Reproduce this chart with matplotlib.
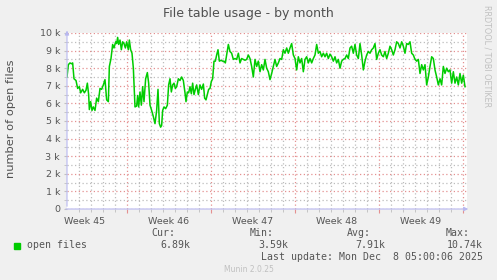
import matplotlib
matplotlib.use("Agg")
import matplotlib.pyplot as plt
from matplotlib.patches import Rectangle
import numpy as np

# open files (k), time in hours from the left edge
hours_a = [0, 2.7, 6, 9.3, 11.3, 14, 18, 21.3, 24.7, 27.3, 31.3, 34.7, 38, 40.7,
           43.3, 44.7, 47.3, 50, 52.7, 56, 59.3, 62.7, 66, 69.3, 72.7, 76, 79.3,
           82.7, 84.7, 88, 91.3, 94, 97.3, 99.3, 101.3, 103.3, 106, 108.7, 111.3,
           114, 116.7, 119.3, 122.7, 124.7, 127.3, 130, 132.7, 136, 139.3, 141.3,
           143.3, 146, 148.7, 151.3, 154, 157.3, 160.7, 163.3, 166, 169.3, 172.7,
           176, 179.3, 182, 184.7, 187.3, 189.3, 191.3, 194, 197.3, 200.7, 203.3,
           206, 208.7, 211.3, 214, 216.7, 219.3, 222.7, 226, 229.3, 232.7, 236,
           238, 240.7, 243.3, 246, 248.7, 251.3, 254, 256.7, 259.3, 262.7, 266,
           269.3, 272.7, 275.3, 278, 280.7, 283.3, 286, 288.7, 291.3, 294, 296.7,
           299.3, 302, 304.7, 308, 311.3, 314, 316.7, 319.3, 322.7, 326, 329.3,
           332.7, 336, 339.3, 342.7, 346, 349.3, 352.7, 356, 359.3, 362.7, 366]
files_a = [7.5, 8.2, 8.3, 8.25, 8.3, 7.4, 7.3, 6.85, 6.95, 6.6, 6.8, 6.6, 6.75, 7.15,
           6.5, 5.65, 6.1, 5.6, 5.8, 5.6, 6.3, 6.1, 6.85, 6.8, 7.05, 7.35, 6.2,
           6.1, 8.1, 8.55, 9.35, 9.15, 9.5, 9.4, 9.75, 9.35, 9.6, 9.05, 9.5,
           9.4, 9.15, 9.5, 9.05, 9.6, 9.05, 8.85, 8.0, 5.8, 5.85, 6.45,
           5.8, 6.65, 5.9, 6.95, 6.1, 7.4, 7.75, 7.15, 5.9, 5.6, 5.25,
           4.85, 5.6, 6.8, 4.85, 4.65, 4.75, 5.6, 5.8, 5.7, 5.9, 7.05,
           7.4, 6.65, 7.05, 7.15, 6.85, 6.95, 7.4, 7.3, 7.5, 7.3, 6.6,
           6.1, 6.65, 6.6, 6.95, 6.55, 7.15, 6.5, 6.8, 7.05, 6.5, 7.05,
           6.8, 7.1, 6.3, 6.2, 6.5, 6.8, 6.85, 7.25, 7.4, 8.4, 8.4,
           8.75, 9.05, 8.4, 8.45, 8.4, 8.4, 8.3, 8.75, 9.35, 8.95, 8.85,
           8.5, 8.55, 8.5, 8.85, 8.3, 8.55, 8.5, 8.45, 8.5, 8.75, 8.55]
files_b = [8.1, 7.5, 8.5, 8.1, 8.4, 7.8, 8.2, 7.9, 8.5, 8.0,
           7.8, 7.35, 7.7, 8.1, 8.5, 8.1, 8.3, 8.55, 8.5, 9.05,
           8.85, 9.15, 8.85, 9.15, 9.4, 8.75, 8.55, 7.9, 8.65, 8.3,
           8.55, 7.8, 8.5, 8.65, 8.3, 8.55, 8.3, 8.55, 8.75, 9.35,
           8.85, 8.95, 8.65, 8.85, 8.65, 8.85, 8.55, 8.8, 8.65, 8.4,
           8.65, 8.3, 8.5, 8.0, 8.4, 8.5, 8.55, 8.75, 8.55, 9.15,
           9.25, 8.85, 9.35, 8.75, 8.55, 9.4, 8.75, 7.9, 8.4, 8.75,
           8.95, 8.85, 9.05, 9.15, 9.4, 8.5, 8.85, 9.05, 8.75, 8.65,
           8.95, 8.55, 8.85, 9.25, 9.05, 8.75, 9.05, 9.5, 9.4, 9.15,
           9.5, 9.25, 8.85, 9.4, 9.35, 9.5, 8.85, 8.75, 8.5, 8.4,
           8.5, 7.7, 8.2, 7.9, 8.2, 7.05, 7.5, 8.1, 8.65, 8.55,
           7.9, 7.5, 7.05, 7.4, 7.05, 8.1, 7.7, 8.0, 7.8, 7.9,
           7.15, 7.8, 7.15, 7.5, 7.05, 7.7, 7.15, 7.6, 6.95]
# second half sampled every 10/3 h starting at 369.3 h
hours_b = 346 + np.arange(7, 7 + len(files_b)) * 10 / 3

week_labels = ["Week 45", "Week 46", "Week 47", "Week 48", "Week 49"]
week_label_pos = [36, 204, 372, 540, 708]
week_lines = [120, 288, 456, 624, 792]
y_ticks = [0, 1000, 2000, 3000, 4000, 5000, 6000, 7000, 8000, 9000, 10000]
y_labels = ["0", "1 k", "2 k", "3 k", "4 k", "5 k", "6 k", "7 k", "8 k", "9 k", "10 k"]

stats_head = ["Cur:", "Min:", "Avg:", "Max:"]
stats_vals = ["6.89k", "3.59k", "7.91k", "10.74k"]

W, H = 497, 280
BG = "#F0F0F0"
GREEN = "#00CC00"
TXT = "#555555"


def fx(x):
    return x / W


def fy(y):
    return 1 - y / H


fig = plt.figure(figsize=(W / 100, H / 100), dpi=100, facecolor=BG)
ax = fig.add_axes([fx(67), fy(209), 400 / W, 176 / H])
ax.set_facecolor("white")

hours = np.concatenate([hours_a, hours_b])
files = np.concatenate([files_a, files_b]) * 1000
ax.plot(hours, files, color=GREEN, lw=1.1, zorder=3)

ax.set_xlim(0, 800)
ax.set_ylim(0, 10000)

# grid
ax.set_xticks(week_lines)
ax.set_xticks(np.arange(24, 800, 24), minor=True)
ax.set_yticks(y_ticks)
ax.set_yticks(np.arange(500, 10000, 1000), minor=True)
ax.set_yticklabels(y_labels)
ax.set_xticklabels([])
ax.grid(which="major", color="#e49090", ls=(0, (1, 2)), lw=0.9)
ax.grid(which="minor", color="#bdbdbd", ls=(0, (1, 2)), lw=0.9)
ax.tick_params(axis="y", which="both", length=2, color="#c0c0c0", pad=3,
               labelsize=6.8, labelcolor=TXT)
ax.tick_params(axis="x", which="major", length=3, color="#e49090")
ax.tick_params(axis="x", which="minor", length=2, color="#bdbdbd")
for s in ax.spines.values():
    s.set_visible(False)

for lab, pos in zip(week_labels, week_label_pos):
    ax.text(pos, -0.045, lab, transform=ax.get_xaxis_transform(),
            ha="center", va="top", fontsize=6.8, color=TXT)

# axes with arrows
axis_col = "#b8b8f0"
ax.annotate("", xy=(0, 1.03), xytext=(0, 0), xycoords="axes fraction",
            arrowprops=dict(arrowstyle="-|>", color=axis_col, lw=0.8,
                            mutation_scale=6), annotation_clip=False)
ax.annotate("", xy=(1.01, 0), xytext=(-0.01, 0), xycoords="axes fraction",
            arrowprops=dict(arrowstyle="-|>", color=axis_col, lw=0.8,
                            mutation_scale=6), annotation_clip=False)

# titles
fig.text(fx(248), fy(13), "File table usage - by month", ha="center",
         va="center", fontsize=9, color="#505050")
fig.text(fx(11), fy(119), "number of open files", rotation=90, ha="center",
         va="center", fontsize=8.2, color="#505050")
fig.text(fx(487), fy(5), "RRDTOOL / TOBI OETIKER", rotation=270, ha="center",
         va="top", fontsize=5.8, color="#c0c0c0")

# legend
mono = "DejaVu Sans Mono"
fs = 7.1
head_x = [175, 274, 371, 470]
val_x = [190, 288, 385, 483]
for t, x in zip(stats_head, head_x):
    fig.text(fx(x), fy(233), t, ha="right", va="center", family=mono,
             fontsize=fs, color=TXT)
for t, x in zip(stats_vals, val_x):
    fig.text(fx(x), fy(245.5), t, ha="right", va="center", family=mono,
             fontsize=fs, color=TXT)
fig.add_artist(Rectangle((fx(14), fy(249)), 6 / W, 6 / H,
                         transform=fig.transFigure, color=GREEN))
fig.text(fx(27), fy(245.5), "open files", ha="left", va="center",
         family=mono, fontsize=fs, color=TXT)
fig.text(fx(483), fy(257.5), "Last update: Mon Dec  8 05:00:06 2025",
         ha="right", va="center", family=mono, fontsize=fs, color=TXT)
fig.text(fx(249), fy(269), "Munin 2.0.25", ha="center", va="center",
         fontsize=5.5, color="#c0c0c0")

fig.savefig("out.png", dpi=100, facecolor=BG)
